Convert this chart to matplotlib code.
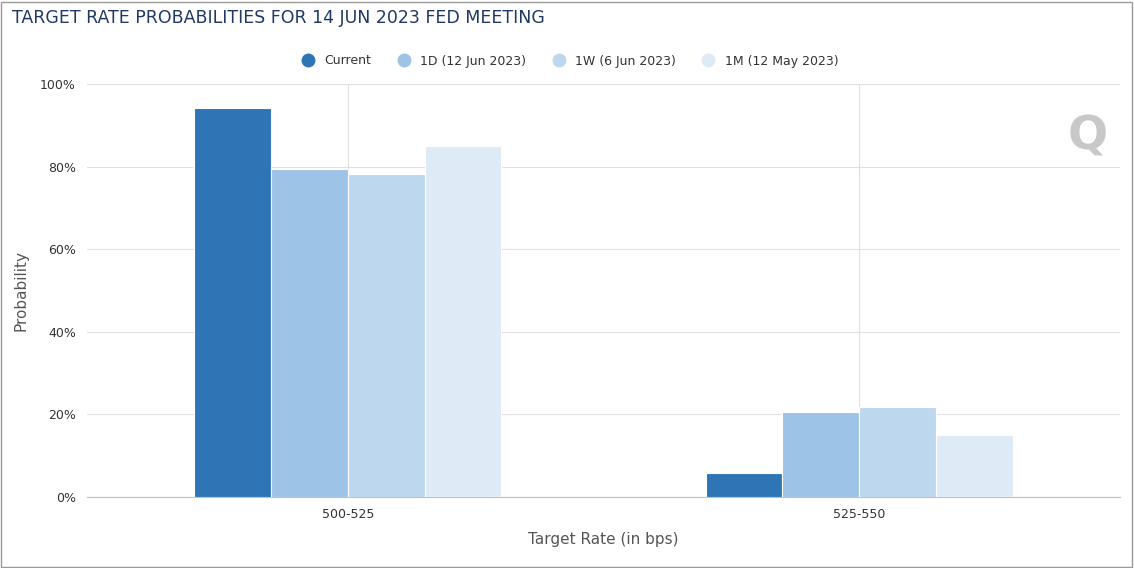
import numpy as np
import matplotlib.pyplot as plt
from matplotlib.lines import Line2D
from matplotlib.patches import Rectangle

# data
categories = ['500-525', '525-550']
series = ['Current', '1D (12 Jun 2023)', '1W (6 Jun 2023)', '1M (12 May 2023)']
values = [
    [94.3, 5.7],
    [79.3, 20.7],
    [78.3, 21.7],
    [85.0, 15.0],
]
colors = ['#2e75b6', '#9dc3e6', '#bdd7ee', '#deebf7']

fig = plt.figure(figsize=(11.34, 5.68), dpi=100)
ax = fig.add_axes([87/1134, 1-497/568, (1120-87)/1134, (497-84)/568])

x = np.arange(len(categories))
w = 0.15
for i, (name, vals) in enumerate(zip(series, values)):
    ax.bar(x + (i - 1.5) * w, vals, w, color=colors[i], edgecolor='white',
           linewidth=0.8, zorder=3, label=name)

ax.set_xlim(-0.51, 1.51)
ax.set_ylim(0, 100)
ax.set_yticks(range(0, 101, 20))
ax.set_yticklabels([f'{v}%' for v in range(0, 101, 20)])
ax.set_xticks(x)
ax.set_xticklabels(categories)
ax.grid(True, color='#e0e0e0', lw=0.8, zorder=0)
for s in ['top', 'right', 'left']:
    ax.spines[s].set_visible(False)
ax.spines['bottom'].set_color('#c0c0c0')
ax.tick_params(axis='both', colors='#333333', labelsize=9, length=0, pad=8)
ax.set_xlabel('Target Rate (in bps)', fontsize=11, color='#555555', labelpad=8)
ax.set_ylabel('Probability', fontsize=11, color='#555555', labelpad=8)

fig.text(12/1134, 1-18/568, 'TARGET RATE PROBABILITIES FOR 14 JUN 2023 FED MEETING',
         fontsize=12.5, color='#1f3864', va='center', ha='left')

handles = [Line2D([], [], marker='o', ls='', ms=9, color=c) for c in colors]
fig.legend(handles, series, loc='center', bbox_to_anchor=(567/1134, 1-61/568),
           ncol=4, frameon=False, fontsize=9, labelcolor='#333333',
           handletextpad=0.3, columnspacing=1.6)

# watermark
fig.text(1088/1134, 1-137/568, 'Q', fontsize=34, color='#c8c8c8',
         fontweight='bold', ha='center', va='center')

fig.patches.append(Rectangle((0.001, 0.002), 0.997, 0.995, transform=fig.transFigure,
                             fill=False, edgecolor='#999999', lw=1))
fig.savefig('out.png', dpi=100)
